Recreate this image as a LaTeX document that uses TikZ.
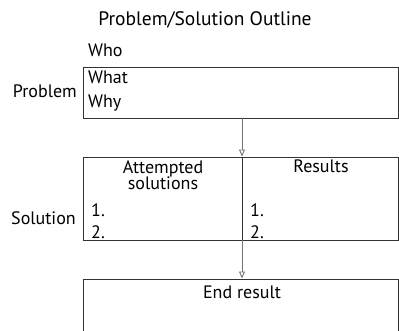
\documentclass[tikz,border=0pt]{standalone}
\usepackage{fontspec}
\setmainfont{PT Sans}
\usetikzlibrary{arrows.meta}
\begin{document}
\newcommand\lbl{\fontsize{18}{20}\selectfont}
\newcommand\ttl{\fontsize{19.5}{22}\selectfont}
\begin{tikzpicture}[x=1pt, y=1pt,
    box/.style={draw=black!80, line width=0.9pt, minimum width=315pt, inner sep=0pt},
    arr/.style={draw=black!55, line width=0.9pt, -{Triangle[open, length=7pt, width=6pt]}},
    txt/.style={font=\lbl, inner sep=0pt}]
\useasboundingbox (0,0) rectangle (399,331);
\clip (0,0) rectangle (399,331);
%title
\node[txt, font=\ttl] (title) at (205,311) {Problem/Solution Outline};
%
%  Problem
%
\node[box, minimum height=51pt] (problem) at (240.5,238.5) {};
\node[txt, anchor=west] (who) at (88,281) {Who};
\node[txt, anchor=west] (what) at (88,254) {What};
\node[txt, anchor=west] (why) at (88,228) {Why};
\node[txt, anchor=east] (problbl) at (77,240) {Problem};
%
%  Solution, split in two columns
%
\node[box, minimum height=83pt] (solution) at (240.5,132.5) {};
\coordinate (mid) at (242,0);
\draw[draw=black!80, line width=0.9pt] (solution.north -| mid) -- (solution.south -| mid);
\node[txt, align=center] (attempted) at (163,156) {Attempted\\[-3.5pt]solutions};
\node[txt] (results) at (321,165) {Results};
\node[txt, anchor=west] (aone) at (91,121) {1.};
\node[txt, anchor=west] (atwo) at (91,99) {2.};
\node[txt, anchor=west] (rone) at (250,121) {1.};
\node[txt, anchor=west] (rtwo) at (250,99) {2.};
\node[txt, anchor=east] (sollbl) at (76,113) {Solution};
%
%  End result (runs off the page)
%
\node[box, minimum height=62pt] (endres) at (240.5,21) {};
\node[txt] (endlbl) at (242,39) {End result};
%arrows
\draw[arr] (problem.south -| mid) -- (solution.north -| mid);
\draw[arr] (solution.south -| mid) -- (endres.north -| mid);
\end{tikzpicture}
\end{document}
